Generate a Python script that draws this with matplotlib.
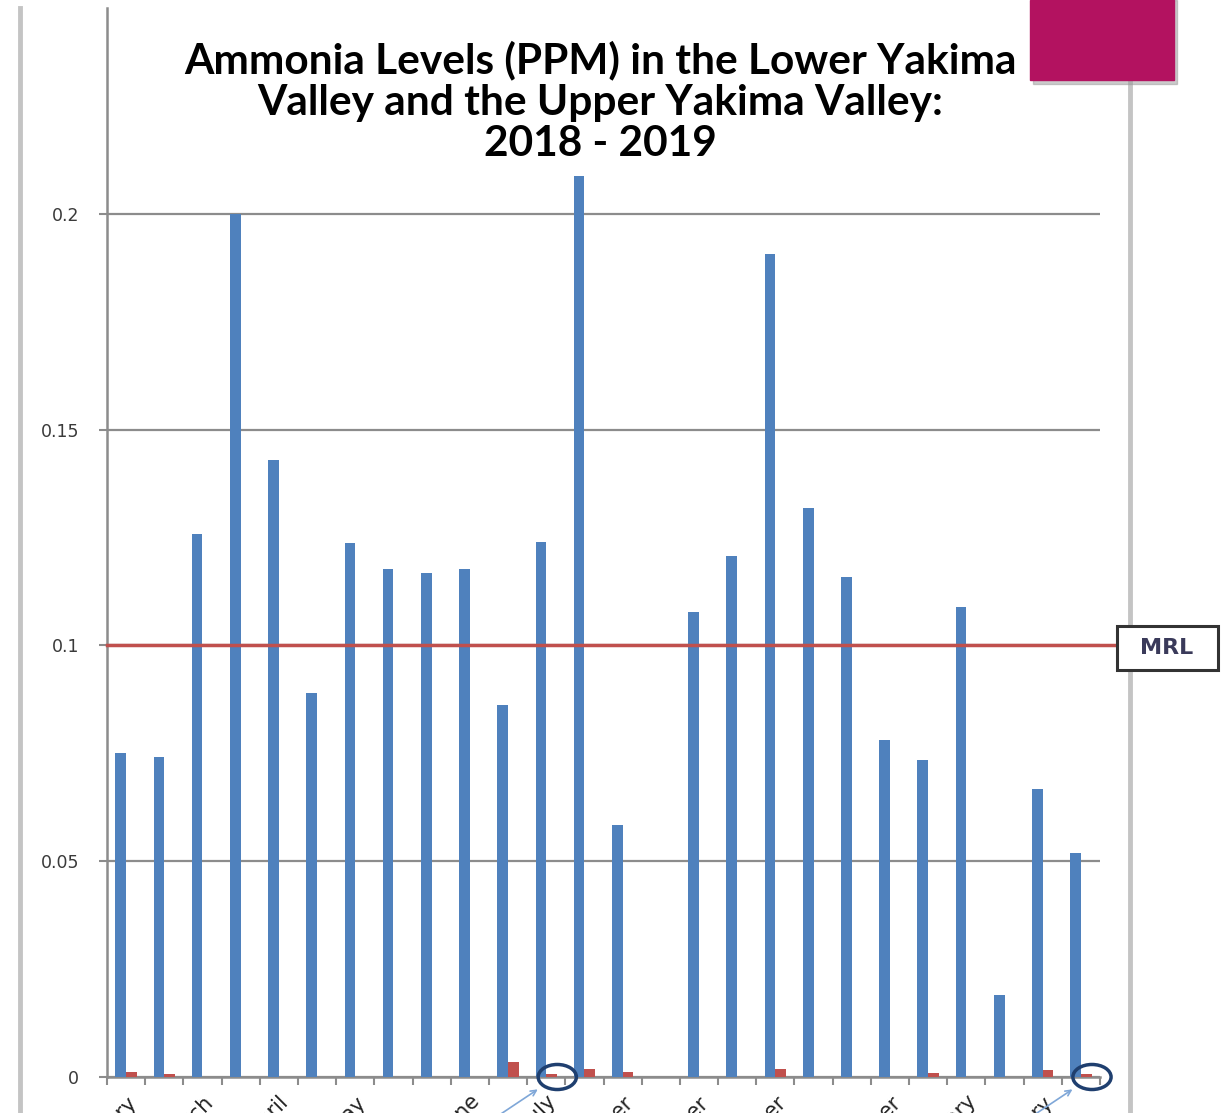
import matplotlib
matplotlib.use("Agg")
import matplotlib.pyplot as plt
from matplotlib.patches import Rectangle, Ellipse
import numpy as np

# sampling dates (only the first sample of each month is labelled)
dates = ["February", "", "March", "", "April", "", "May", "", "",
         "June", "", "July", "", "September", "", "October", "",
         "November", "", "", "December", "", "January", "", "February", ""]

# ammonia, ppm
lower_yakima = [0.075, 0.0742, 0.1258, 0.200, 0.143, 0.089, 0.1238, 0.1177,
                0.1168, 0.1177, 0.0862, 0.124, 0.2088, 0.0584, 0.0, 0.1078,
                0.1207, 0.1907, 0.1319, 0.1159, 0.0781, 0.0735, 0.1089,
                0.019, 0.0667, 0.0519]
upper_yakima = [0.0011, 0.0008, 0, 0, 0, 0, 0, 0, 0, 0, 0.0035, 0.0007,
                0.0018, 0.0012, 0, 0, 0, 0.0018, 0, 0, 0, 0.001, 0, 0,
                0.0016, 0.0007]
mrl = 0.1
circled = [11, 25]

blue = "#4F81BD"
red = "#C0504D"

fig = plt.figure(figsize=(12.25, 11.13), dpi=100)

# slide decoration (behind everything else)
fig.add_artist(plt.Line2D([20/1225, 20/1225], [0, 1 - 8/1113],
                          transform=fig.transFigure, color="#c4c4c4", lw=3.5,
                          zorder=0))
fig.add_artist(plt.Line2D([1130/1225, 1130/1225], [0, 1 - 80/1113],
                          transform=fig.transFigure, color="#c4c4c4", lw=3.5,
                          zorder=0))

ax = fig.add_axes([107/1225, 36/1113, (1100-107)/1225, (1077-8)/1113])
ax.patch.set_alpha(0)

x = np.arange(len(dates))
w = 0.28
ax.bar(x - w/2, lower_yakima, width=w, color=blue, zorder=3)
ax.bar(x + w/2, upper_yakima, width=w, color=red, zorder=3)

ax.set_xlim(-0.5, len(dates) - 0.5)
ax.set_ylim(0, 0.2477)
ax.set_yticks([0, 0.05, 0.1, 0.15, 0.2])
ax.set_yticklabels(["0", "0.05", "0.1", "0.15", "0.2"])
ax.yaxis.grid(True, color="#8c8c8c", lw=1.6, zorder=0)
ax.tick_params(axis="y", length=6, width=1.5, color="#8c8c8c",
               labelsize=12.5, labelcolor="#3a3a3a", pad=14)

ax.set_xticks(np.arange(len(dates) + 1) - 0.5, minor=True)
ax.set_xticks(x)
ax.set_xticklabels(dates, rotation=45, ha="right", rotation_mode="anchor",
                   fontsize=15, color="#222222")
ax.tick_params(axis="x", which="major", length=0, pad=11)
ax.tick_params(axis="x", which="minor", length=6, width=1.5, color="#8c8c8c")

for s in ["top", "right"]:
    ax.spines[s].set_visible(False)
for s in ["left", "bottom"]:
    ax.spines[s].set_color("#8c8c8c")
    ax.spines[s].set_linewidth(1.8)

# maximum residue limit line
ax.plot([-0.5, len(dates) - 0.5 + 0.45], [mrl, mrl], color=red, lw=2.5,
        zorder=4, clip_on=False)
fig.add_artist(Rectangle((1117/1225, 1 - 670/1113), 101/1225, 44/1113,
                         transform=fig.transFigure, fc="white", ec="#333333",
                         lw=2.2, zorder=5))
fig.text(1167/1225, 1 - 648/1113, "MRL", ha="center", va="center",
         fontsize=16, fontweight="bold", color="#3a3a5a", zorder=6)

# circles and arrows on the Upper Yakima values
for i in circled:
    cx = i + w/2 + 0.15
    ax.add_patch(Ellipse((cx, 0.0), 1.0, 0.0058, fill=False, ec="#1F3F6F",
                         lw=2.5, zorder=5, clip_on=False))
    ax.annotate("", xy=(cx - 0.45, -0.0025), xytext=(-45, -30),
                textcoords="offset points", annotation_clip=False,
                arrowprops=dict(arrowstyle="->", color="#7FA7D8", lw=1.2))

fig.text(600/1225, 1 - 102/1113, "Ammonia Levels (PPM) in the Lower Yakima\n"
         "Valley and the Upper Yakima Valley:\n2018 - 2019",
         ha="center", va="center", fontsize=30.5, fontweight="bold",
         family="Lato", linespacing=1.1)

fig.add_artist(Rectangle((1033/1225, 1 - 84/1113), 144/1225, 84/1113,
                         transform=fig.transFigure, color="#999999", alpha=0.5,
                         zorder=5))
fig.add_artist(Rectangle((1030/1225, 1 - 80/1113), 144/1225, 80/1113,
                         transform=fig.transFigure, color="#B31260", zorder=6))

fig.savefig("out.png", dpi=100)
